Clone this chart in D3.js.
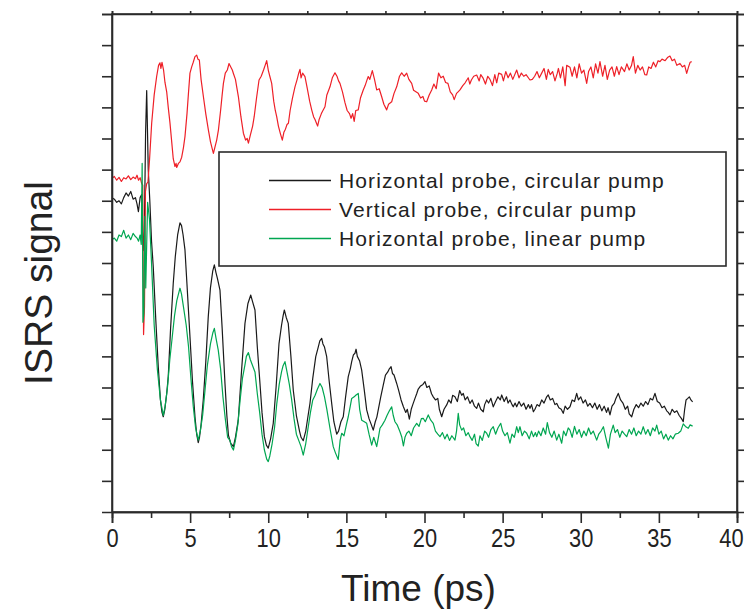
<!DOCTYPE html>
<html><head><meta charset="utf-8"/>
<title>ISRS signal</title>
<script src="https://d3js.org/d3.v7.min.js"></script>
<style>
  body { margin: 0; background: #fff; }
  svg text { font-family: "Liberation Sans", Arial, sans-serif; fill: #222; }
</style>
</head>
<body>
<div id="chart"></div>
<script>
// series: [time (ps), signal (arb. units, one unit per y tick)]
const blackCirc = [[0,10.1],[0.15,10.05],[0.3,9.95],[0.45,10.0],[0.6,9.9],[0.75,10.1],[0.9,10.25],[1.05,10.15],[1.2,10.3],[1.35,10.05],[1.5,10.1],[1.6,9.9],[1.69,9.65],[1.8,10.1],[1.9,10.2],[1.95,9.3],[2.0,8.4],[2.07,9.0],[2.15,12.2],[2.22,13.54],[2.32,11.0],[2.42,10.0],[2.53,8.7],[2.64,7.88],[2.8,6.2],[2.96,4.67],[3.1,3.6],[3.2,3.2],[3.28,3.06],[3.38,3.3],[3.5,3.8],[3.6,4.35],[3.75,5.9],[3.92,7.35],[4.05,8.2],[4.2,8.9],[4.35,9.29],[4.45,9.2],[4.55,8.9],[4.67,8.42],[4.8,7.3],[4.99,5.63],[5.15,4.2],[5.31,3.06],[5.42,2.5],[5.52,2.23],[5.6,2.4],[5.7,2.8],[5.84,3.6],[6.0,4.8],[6.16,6.27],[6.3,7.2],[6.45,7.75],[6.55,7.94],[6.65,7.7],[6.75,7.5],[6.91,7.13],[7.05,5.9],[7.23,4.13],[7.35,3.1],[7.45,2.47],[7.6,2.2],[7.7,2.15],[7.77,2.1],[7.9,2.4],[8.08,2.95],[8.3,4.6],[8.51,6.06],[8.7,6.7],[8.8,6.85],[8.88,6.97],[9.0,6.75],[9.15,6.49],[9.3,5.3],[9.47,4.13],[9.6,3.2],[9.75,2.42],[9.88,2.15],[10.0,2.05],[10.15,2.35],[10.32,2.85],[10.5,4.0],[10.69,5.42],[10.85,6.0],[10.95,6.3],[11.03,6.49],[11.15,6.25],[11.28,6.06],[11.45,5.0],[11.6,3.92],[11.8,3.1],[12.0,2.6],[12.1,2.4],[12.24,2.29],[12.4,2.6],[12.55,3.1],[12.67,3.49],[12.85,4.3],[13.04,4.99],[13.2,5.3],[13.3,5.5],[13.42,5.58],[13.5,5.4],[13.6,5.3],[13.74,4.99],[13.9,4.2],[14.06,3.49],[14.2,2.9],[14.38,2.5],[14.5,2.6],[14.65,2.9],[14.8,3.06],[14.95,3.7],[15.12,4.35],[15.25,4.6],[15.34,4.83],[15.45,5.05],[15.55,5.1],[15.62,5.23],[15.7,5.0],[15.85,4.85],[15.98,4.56],[16.15,3.9],[16.3,3.28],[16.45,3.0],[16.6,2.8],[16.72,2.63],[16.85,2.9],[16.95,3.05],[17.04,3.28],[17.2,3.7],[17.36,4.08],[17.5,4.4],[17.65,4.5],[17.75,4.6],[17.86,4.67],[17.95,4.45],[18.05,4.4],[18.22,4.13],[18.35,3.9],[18.5,3.6],[18.65,3.38],[18.8,3.2],[18.9,3.3],[19.03,2.98],[19.15,3.3],[19.25,3.45],[19.39,3.65],[19.5,3.8],[19.6,3.95],[19.75,4.05],[19.9,4.1],[20.03,4.19],[20.15,4.0],[20.3,4.05],[20.45,3.8],[20.56,3.7],[20.7,3.6],[20.85,3.65],[20.95,3.3],[21.1,3.06],[21.25,3.3],[21.42,3.44],[21.55,3.6],[21.7,3.5],[21.8,3.75],[21.95,3.7],[22.1,3.55],[22.25,3.9],[22.38,3.75],[22.48,3.81],[22.6,3.6],[22.75,3.7],[22.91,3.49],[23.05,3.6],[23.2,3.4],[23.34,3.33],[23.45,3.5],[23.6,3.3],[23.76,3.22],[23.85,3.45],[23.98,3.6],[24.1,3.5],[24.25,3.65],[24.4,3.38],[24.55,3.55],[24.7,3.7],[24.85,3.6],[24.94,3.76],[25.1,3.55],[25.25,3.7],[25.35,3.5],[25.47,3.6],[25.6,3.45],[25.68,3.38],[25.8,3.5],[25.9,3.38],[26.05,3.55],[26.2,3.4],[26.35,3.5],[26.5,3.3],[26.65,3.45],[26.75,3.33],[26.85,3.45],[26.97,3.22],[27.07,3.3],[27.2,3.45],[27.35,3.4],[27.5,3.6],[27.65,3.5],[27.82,3.7],[27.92,3.76],[28.05,3.6],[28.2,3.65],[28.35,3.45],[28.46,3.49],[28.6,3.35],[28.75,3.3],[28.88,3.17],[29.0,3.4],[29.15,3.3],[29.31,3.38],[29.45,3.6],[29.6,3.55],[29.74,3.81],[29.85,3.6],[30.0,3.7],[30.15,3.5],[30.3,3.6],[30.45,3.4],[30.59,3.49],[30.75,3.35],[30.9,3.5],[31.05,3.3],[31.2,3.45],[31.35,3.25],[31.5,3.4],[31.65,3.2],[31.75,3.35],[31.87,3.12],[32.0,3.4],[32.15,3.5],[32.25,3.65],[32.4,3.81],[32.55,3.6],[32.7,3.5],[32.85,3.3],[33.0,3.4],[33.1,3.15],[33.26,3.06],[33.4,3.3],[33.55,3.45],[33.7,3.35],[33.85,3.5],[34.0,3.4],[34.15,3.55],[34.3,3.45],[34.45,3.65],[34.6,3.6],[34.75,3.81],[34.9,3.55],[35.05,3.5],[35.2,3.35],[35.35,3.4],[35.5,3.25],[35.6,3.2],[35.71,3.12],[35.85,3.3],[36.0,3.2],[36.15,3.25],[36.3,3.1],[36.45,3.0],[36.56,2.9],[36.65,3.3],[36.74,3.6],[36.85,3.65],[36.95,3.7],[37.05,3.6],[37.16,3.54]];

const redCirc = [[0,10.72],[0.15,10.78],[0.3,10.66],[0.45,10.75],[0.6,10.62],[0.75,10.74],[0.9,10.7],[1.05,10.8],[1.2,10.68],[1.35,10.76],[1.5,10.71],[1.6,10.82],[1.7,10.66],[1.8,10.74],[1.9,10.55],[1.97,10.5],[2.02,5.7],[2.08,6.6],[2.14,10.3],[2.22,10.55],[2.3,10.6],[2.4,11.3],[2.54,12.5],[2.7,13.4],[2.86,14.0],[2.98,14.35],[3.07,14.43],[3.13,14.25],[3.2,14.45],[3.3,14.2],[3.39,13.8],[3.5,13.5],[3.6,13.0],[3.71,12.5],[3.82,11.9],[3.92,11.35],[4.03,11.1],[4.1,11.2],[4.14,11.07],[4.25,11.2],[4.35,11.25],[4.46,11.4],[4.57,11.7],[4.67,12.06],[4.8,12.8],[4.9,13.5],[4.99,14.1],[5.1,14.3],[5.2,14.45],[5.31,14.63],[5.42,14.68],[5.5,14.55],[5.59,14.52],[5.7,13.9],[5.85,13.34],[6.0,12.8],[6.17,12.27],[6.3,11.9],[6.4,11.7],[6.49,11.52],[6.6,11.75],[6.7,11.95],[6.81,12.27],[6.95,12.9],[7.05,13.4],[7.13,13.77],[7.25,14.1],[7.38,14.2],[7.49,14.41],[7.6,14.3],[7.7,14.2],[7.77,14.09],[7.9,13.9],[8.0,13.6],[8.09,13.34],[8.25,12.7],[8.41,12.17],[8.55,11.95],[8.65,12.0],[8.73,11.85],[8.85,12.1],[9.0,12.4],[9.1,12.7],[9.25,13.3],[9.41,13.88],[9.55,14.0],[9.7,14.2],[9.8,14.35],[9.9,14.5],[10.0,14.2],[10.1,14.0],[10.22,13.77],[10.35,13.2],[10.45,12.9],[10.54,12.7],[10.65,12.4],[10.78,12.15],[10.9,11.95],[11.0,12.2],[11.1,12.3],[11.2,12.45],[11.29,12.49],[11.4,12.9],[11.55,13.3],[11.71,13.66],[11.85,13.9],[11.95,14.1],[12.03,14.22],[12.1,13.95],[12.2,14.1],[12.35,13.99],[12.5,13.6],[12.65,13.2],[12.78,12.92],[12.9,12.7],[13.0,12.6],[13.08,12.5],[13.16,12.4],[13.25,12.6],[13.4,12.8],[13.5,12.9],[13.63,13.02],[13.75,13.4],[13.95,13.66],[14.1,13.95],[14.27,14.11],[14.4,14.0],[14.5,13.85],[14.59,13.77],[14.75,13.5],[14.91,13.15],[15.05,12.9],[15.2,12.8],[15.3,12.65],[15.4,12.8],[15.5,12.55],[15.6,12.9],[15.76,12.92],[15.9,13.3],[16.08,13.56],[16.2,13.7],[16.3,13.85],[16.4,13.99],[16.5,13.9],[16.66,14.18],[16.8,13.9],[16.94,13.56],[17.1,13.6],[17.26,13.34],[17.4,13.1],[17.5,13.0],[17.58,12.92],[17.7,13.1],[17.9,13.18],[18.05,13.45],[18.22,13.66],[18.4,14.0],[18.54,14.11],[18.7,14.0],[18.86,14.1],[19.0,13.9],[19.18,13.77],[19.3,13.55],[19.45,13.5],[19.6,13.45],[19.75,13.3],[19.9,13.35],[20.0,13.2],[20.14,13.18],[20.3,13.4],[20.46,13.56],[20.6,13.75],[20.75,13.6],[20.9,14.1],[21.05,13.95],[21.2,14.0],[21.35,13.8],[21.5,13.77],[21.65,13.5],[21.8,13.4],[21.9,13.25],[22.05,13.45],[22.15,13.5],[22.27,13.56],[22.45,13.7],[22.6,13.79],[22.8,13.95],[22.9,13.75],[23.0,13.88],[23.15,14.0],[23.34,14.04],[23.5,13.85],[23.6,14.05],[23.76,13.93],[23.9,13.75],[24.05,14.0],[24.19,13.9],[24.35,13.7],[24.5,14.05],[24.62,13.79],[24.75,14.1],[24.94,14.06],[25.05,13.85],[25.2,14.15],[25.35,13.95],[25.5,14.1],[25.65,13.9],[25.9,14.2],[26.05,13.95],[26.2,14.1],[26.35,14.0],[26.5,14.05],[26.75,13.88],[26.9,13.9],[27.05,14.0],[27.2,14.15],[27.35,13.95],[27.5,14.1],[27.65,14.25],[27.8,13.9],[27.92,14.22],[28.05,14.05],[28.2,14.15],[28.35,13.85],[28.5,14.1],[28.57,14.25],[28.7,13.95],[28.85,14.3],[29.0,13.7],[29.1,14.35],[29.31,14.29],[29.45,14.0],[29.6,14.3],[29.75,13.95],[29.9,14.4],[30.05,14.1],[30.2,14.2],[30.38,13.77],[30.5,14.15],[30.65,14.3],[30.8,13.95],[30.95,14.4],[31.1,14.1],[31.23,14.47],[31.4,14.0],[31.55,14.35],[31.7,13.9],[31.85,14.2],[32.0,14.3],[32.15,14.0],[32.3,14.31],[32.45,14.05],[32.6,14.3],[32.8,14.15],[32.95,14.4],[33.1,14.2],[33.25,14.35],[33.36,14.63],[33.5,14.1],[33.65,14.35],[33.8,14.2],[33.95,14.3],[34.1,14.05],[34.22,14.04],[34.35,14.3],[34.5,14.25],[34.65,14.45],[34.8,14.3],[34.95,14.5],[35.07,14.47],[35.2,14.55],[35.4,14.5],[35.55,14.6],[35.71,14.65],[35.85,14.5],[36.0,14.55],[36.15,14.35],[36.35,14.41],[36.5,14.3],[36.65,14.35],[36.78,14.09],[36.9,14.3],[37.0,14.45],[37.1,14.47]];

const greenLin = [[0,8.75],[0.15,8.8],[0.3,8.7],[0.45,8.9],[0.6,8.85],[0.75,9.05],[0.9,8.8],[1.05,8.9],[1.2,8.75],[1.35,8.95],[1.5,8.85],[1.6,8.8],[1.7,8.7],[1.8,8.9],[1.87,8.6],[1.93,11.2],[1.98,6.1],[2.04,6.4],[2.1,9.5],[2.16,7.2],[2.28,9.95],[2.4,9.4],[2.53,8.0],[2.7,6.0],[2.9,4.6],[3.1,3.6],[3.28,3.1],[3.4,3.4],[3.55,4.0],[3.7,4.9],[3.85,5.6],[4.0,6.3],[4.15,6.8],[4.35,7.19],[4.45,7.0],[4.6,6.5],[4.75,6.0],[4.9,5.3],[5.05,4.3],[5.2,3.4],[5.35,2.7],[5.52,2.31],[5.65,2.6],[5.8,3.1],[5.95,3.9],[6.1,4.7],[6.3,5.4],[6.45,5.75],[6.55,5.9],[6.65,5.6],[6.8,5.2],[6.95,4.6],[7.1,3.7],[7.25,3.0],[7.4,2.4],[7.55,2.3],[7.65,2.1],[7.77,1.99],[7.9,2.3],[8.05,2.8],[8.2,3.6],[8.35,4.3],[8.5,4.7],[8.6,5.0],[8.73,5.12],[8.85,4.9],[9.0,4.7],[9.15,4.5],[9.3,3.8],[9.45,3.2],[9.6,2.5],[9.75,2.0],[9.9,1.7],[10.0,1.62],[10.1,1.8],[10.25,2.2],[10.4,2.7],[10.55,3.5],[10.7,4.1],[10.85,4.5],[10.95,4.7],[11.07,4.83],[11.2,4.5],[11.35,4.1],[11.5,3.6],[11.65,3.0],[11.8,2.5],[11.95,2.3],[12.1,2.1],[12.24,1.83],[12.4,2.2],[12.55,2.7],[12.7,3.2],[12.85,3.6],[13.0,3.75],[13.15,3.95],[13.31,4.13],[13.45,4.0],[13.6,3.7],[13.75,3.3],[13.95,2.69],[14.16,2.1],[14.3,1.9],[14.48,1.69],[14.6,2.3],[14.7,2.53],[14.85,2.45],[15.0,2.8],[15.12,3.06],[15.25,3.4],[15.34,3.65],[15.5,3.7],[15.6,3.75],[15.76,3.81],[15.85,3.3],[15.98,2.95],[16.15,2.9],[16.3,2.85],[16.45,2.5],[16.62,2.15],[16.75,2.4],[16.85,2.25],[16.94,2.1],[17.05,2.4],[17.15,2.69],[17.3,2.8],[17.47,2.95],[17.6,3.1],[17.75,3.25],[17.9,3.38],[18.0,3.1],[18.11,2.9],[18.25,2.8],[18.43,2.58],[18.55,2.4],[18.65,2.12],[18.75,2.4],[18.86,2.53],[19.0,2.6],[19.15,2.45],[19.3,2.7],[19.5,2.85],[19.65,2.75],[19.8,3.0],[19.92,3.01],[20.05,2.9],[20.24,3.12],[20.4,2.95],[20.56,2.85],[20.7,2.6],[20.85,2.5],[20.99,2.42],[21.15,2.55],[21.3,2.35],[21.45,2.5],[21.6,2.3],[21.75,2.45],[21.95,2.31],[22.05,2.6],[22.16,3.17],[22.25,2.8],[22.38,2.63],[22.5,2.7],[22.65,2.45],[22.8,2.55],[22.91,2.42],[23.05,2.3],[23.2,2.5],[23.3,2.2],[23.44,2.12],[23.55,2.45],[23.7,2.3],[23.85,2.6],[23.98,2.53],[24.1,2.4],[24.25,2.65],[24.4,2.74],[24.55,2.5],[24.7,2.7],[24.88,2.85],[25.0,2.6],[25.15,2.45],[25.3,2.55],[25.47,2.21],[25.6,2.5],[25.75,2.4],[25.9,2.74],[26.0,2.55],[26.11,2.74],[26.25,2.45],[26.4,2.6],[26.54,2.53],[26.7,2.35],[26.85,2.6],[26.97,2.42],[27.1,2.55],[27.18,2.42],[27.3,2.6],[27.45,2.45],[27.6,2.7],[27.75,2.5],[27.86,2.87],[28.0,2.55],[28.15,2.4],[28.3,2.6],[28.46,2.31],[28.6,2.5],[28.78,2.21],[28.9,2.6],[29.05,2.45],[29.2,2.7],[29.31,2.63],[29.45,2.4],[29.6,2.75],[29.75,2.5],[29.9,2.65],[30.05,2.4],[30.2,2.6],[30.35,2.45],[30.5,2.7],[30.65,2.5],[30.8,2.6],[31.02,2.31],[31.15,2.5],[31.3,2.6],[31.45,2.74],[31.6,2.4],[31.77,2.05],[31.9,2.5],[32.08,2.79],[32.2,2.55],[32.35,2.65],[32.5,2.4],[32.65,2.6],[32.8,2.5],[32.94,2.42],[33.1,2.65],[33.25,2.5],[33.4,2.7],[33.55,2.45],[33.7,2.6],[33.85,2.5],[34.0,2.74],[34.15,2.5],[34.3,2.65],[34.45,2.45],[34.6,2.7],[34.75,2.6],[34.86,2.79],[35.0,2.5],[35.15,2.6],[35.3,2.35],[35.45,2.5],[35.6,2.31],[35.75,2.45],[35.9,2.35],[36.05,2.5],[36.24,2.53],[36.4,2.6],[36.56,2.83],[36.7,2.75],[36.88,2.69],[37.0,2.8],[37.16,2.76]];

const seriesNames = ["Horizontal probe, circular pump", "Vertical probe, circular pump", "Horizontal probe, linear pump"];
const seriesColors = ["#1a1a1a", "#ee2028", "#00a651"];
const xTicks = [0, 5, 10, 15, 20, 25, 30, 35, 40];
const xMinorTicks = [2.5, 7.5, 12.5, 17.5, 22.5, 27.5, 32.5, 37.5];
const yTicks = [1, 2, 3, 4, 5, 6, 7, 8, 9, 10, 11, 12, 13, 14, 15, 16];

const W = 748, H = 615;
const margin = {left: 112, right: 11, top: 14, bottom: 103};

const svg = d3.select("#chart").append("svg")
    .attr("width", W).attr("height", H);

const x = d3.scaleLinear().domain([0, 40]).range([margin.left, W - margin.right]);
const y = d3.scaleLinear().domain([0, 16]).range([H - margin.bottom, margin.top]);

const line = d3.line().x(d => x(d[0])).y(d => y(d[1]));

// curves
[blackCirc, redCirc, greenLin].forEach((data, i) => {
    svg.append("path")
        .datum(data)
        .attr("fill", "none")
        .attr("stroke", seriesColors[i])
        .attr("stroke-width", 1.2)
        .attr("stroke-linejoin", "round")
        .attr("d", line);
});

// axes
const axisColor = "#2b2b2b";
const bottom = svg.append("g").attr("class", "frame-axis").attr("transform", `translate(0,${y(0)})`)
    .call(d3.axisBottom(x).tickValues(xTicks).tickSize(11).tickPadding(6).tickFormat(d3.format("d")));
bottom.append("g").call(d3.axisBottom(x).tickValues(xMinorTicks).tickSize(6).tickFormat(""));
// narrow, tall digits like the original
bottom.selectAll(".tick text")
    .attr("font-size", 26)
    .attr("fill", "#222")
    .attr("transform", d => d === 40 ? "translate(-6,0) scale(0.84,1)" : "scale(0.84,1)");

svg.append("g").attr("class", "frame-axis").attr("transform", `translate(${x(0)},0)`)
    .call(d3.axisLeft(y).tickValues(yTicks).tickSize(10).tickFormat(""));
svg.append("g").attr("class", "frame-axis").attr("transform", `translate(${x(40)},0)`)
    .call(d3.axisRight(y).tickValues(yTicks).tickSize(7).tickFormat(""));
svg.append("g").attr("class", "frame-axis").attr("transform", `translate(0,${y(16)})`)
    .call(d3.axisTop(x).tickValues(xTicks.concat(xMinorTicks)).tickSize(3).tickFormat(""));

svg.selectAll(".frame-axis .domain, .frame-axis .tick line").attr("stroke", axisColor).attr("stroke-width", 1.6);

// frame
svg.append("rect")
    .attr("x", x(0)).attr("y", y(16))
    .attr("width", x(40) - x(0)).attr("height", y(0) - y(16))
    .attr("fill", "none").attr("stroke", axisColor).attr("stroke-width", 1.6);

// axis titles
svg.append("text")
    .attr("x", (x(0) + x(40)) / 2 - 6).attr("y", 601)
    .attr("text-anchor", "middle").attr("font-size", 37)
    .text("Time (ps)");
svg.append("text")
    .attr("transform", `translate(52,${(y(0) + y(16)) / 2 + 20}) rotate(-90)`)
    .attr("text-anchor", "middle").attr("font-size", 39)
    .text("ISRS signal");

// legend
const legend = svg.append("g");
legend.append("rect")
    .attr("x", 219).attr("y", 152).attr("width", 507).attr("height", 114)
    .attr("fill", "#fff").attr("stroke", axisColor).attr("stroke-width", 1.6);
seriesNames.forEach((name, i) => {
    const ly = 180.5 + i * 29;
    legend.append("path")
        .attr("d", `M269,${ly}H331`)
        .attr("fill", "none")
        .style("stroke", seriesColors[i]).style("stroke-width", 1.3);
    legend.append("text")
        .attr("x", 339).attr("y", ly + 7.5)
        .attr("font-size", 21).attr("letter-spacing", 1.1)
        .text(name);
});
</script>
</body></html>
